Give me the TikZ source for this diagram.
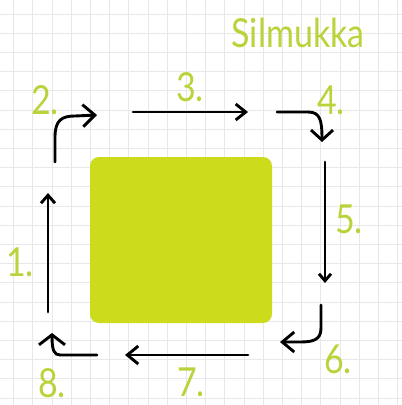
\documentclass[tikz,border=0pt]{standalone}
\usepackage{fontspec}
\setmainfont{Lato}
\usetikzlibrary{arrows.meta}
\definecolor{lbl}{RGB}{184,212,58}
\definecolor{sq}{RGB}{204,220,28}
\definecolor{gridc}{RGB}{232,232,232}
\tikzset{
  lab/.style={text=lbl,font=\fontsize{40}{40}\selectfont,inner sep=0pt,xscale=0.85},
  arr/.style={line width=2.9pt,line cap=round,line join=round,
    -{Straight Barb[length=10pt,width=16pt,line width=2.9pt]}},
}
\begin{document}
\begin{tikzpicture}[x=1pt,y=-1pt]
\useasboundingbox (0,0) rectangle (402,405);
\fill[white] (0,0) rectangle (402,405);
% grid
\foreach \i in {0,...,20} {
  \draw[gridc,line width=0.7pt] (13.5+19.2*\i,0) -- (13.5+19.2*\i,405);
  \draw[gridc,line width=0.7pt] (0,14+19.2*\i) -- (402,14+19.2*\i);
}
% square
\node (sq) [fill=sq,rounded corners=9pt,minimum width=182pt,minimum height=166pt,inner sep=0pt] at (181,240) {};
% title
\node (title) [lab] at (298,33) {Silmukka};
% labels
\node (l1) [lab] at (20,262) {1.};
\node (l2) [lab] at (45,100) {2.};
\node (l3) [lab] at (190,87) {3.};
\node (l4) [lab] at (331,100) {4.};
\node (l5) [lab] at (349,219) {5.};
\node (l6) [lab] at (338,359) {6.};
\node (l7) [lab] at (191,382) {7.};
\node (l8) [lab] at (52,383) {8.};
% arrow coordinates
\coordinate (a1s) at (48,312); \coordinate (a1e) at (48,193);
\coordinate (a2s) at (55,162); \coordinate (a2e) at (97,115);
\coordinate (a3s) at (133,112); \coordinate (a3e) at (248,112);
\coordinate (a4s) at (277,112); \coordinate (a4e) at (322,142);
\coordinate (a5s) at (325,162); \coordinate (a5e) at (325,283);
\coordinate (a6s) at (321,305); \coordinate (a6e) at (280,342);
\coordinate (a7s) at (248,355); \coordinate (a7e) at (125,355);
\coordinate (a8s) at (97,355); \coordinate (a8e) at (52,333);
% arrows
\draw[arr,-{Straight Barb[length=8pt,width=14pt,line width=2.9pt]}] (a1s) -- (a1e);
\draw[arr,-{Straight Barb[length=12pt,width=22pt,line width=2.9pt]}] (a2s) -- (55,137) .. controls (55,120) and (62,116) .. (75,116) -- (a2e);
\draw[arr] (a3s) -- (a3e);
\draw[arr,-{Straight Barb[length=10pt,width=22pt,line width=2.9pt]}] (a4s) -- (308,112) .. controls (320,112) and (322,120) .. (a4e);
\draw[arr,-{Straight Barb[length=7pt,width=12pt,line width=2.9pt]}] (a5s) -- (a5e);
\draw[arr,-{Straight Barb[length=12pt,width=20pt,line width=2.9pt]}] (a6s) -- (321,328) .. controls (321,340) and (313,342) .. (300,342) -- (a6e);
\draw[arr,-{Straight Barb[length=11pt,width=18pt,line width=2.9pt]}] (a7s) -- (a7e);
\draw[arr,-{Straight Barb[length=10pt,width=26pt,line width=2.9pt]}] (a8s) -- (60,355) .. controls (54,355) and (52,350) .. (a8e);
\end{tikzpicture}
\end{document}
